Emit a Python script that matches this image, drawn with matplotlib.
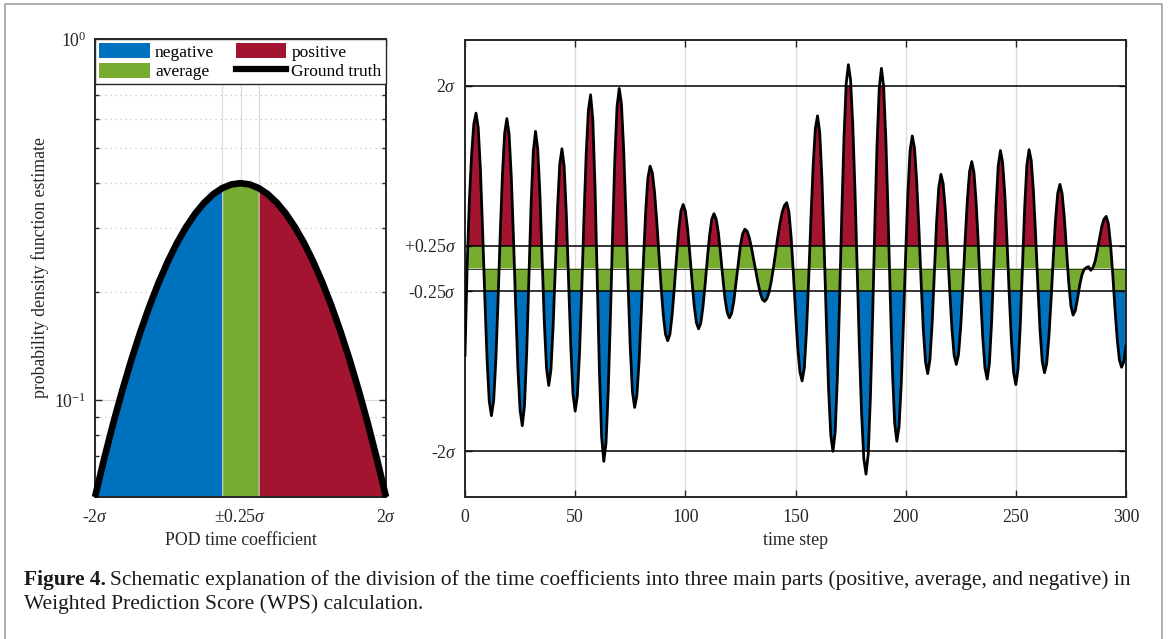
#!/usr/bin/env python3
"""Figure 4: split of POD time coefficients into negative / average / positive parts."""
import numpy as np
import matplotlib

matplotlib.use("Agg")
import matplotlib.pyplot as plt
from matplotlib.lines import Line2D
from matplotlib.patches import Patch
from matplotlib.path import Path
from matplotlib.ticker import FixedLocator, LogLocator, NullFormatter

# ---- data ------------------------------------------------------------------
# left panel: ground-truth pdf estimate (x in units of sigma)
pdf_x = [-2.0, -1.875, -1.75, -1.625, -1.5, -1.375, -1.25, -1.125, -1.0,
         -0.875, -0.75, -0.625, -0.5, -0.375, -0.25, -0.125, 0.0,
         0.125, 0.25, 0.375, 0.5, 0.625, 0.75, 0.875, 1.0,
         1.125, 1.25, 1.375, 1.5, 1.625, 1.75, 1.875, 2.0]
pdf_y = [0.0540, 0.0688, 0.0863, 0.1065, 0.1295, 0.1550, 0.1826, 0.2119, 0.2420,
         0.2721, 0.3011, 0.3282, 0.3521, 0.3719, 0.3867, 0.3958, 0.3989,
         0.3958, 0.3867, 0.3719, 0.3521, 0.3282, 0.3011, 0.2721, 0.2420,
         0.2119, 0.1826, 0.1550, 0.1295, 0.1065, 0.0863, 0.0688, 0.0540]

# right panel: time coefficient (units of sigma), one value per time step 0..300
coef = [
    -0.95, 0.05, 0.75, 1.25, 1.58, 1.70,
    1.54, 1.08, 0.41, -0.32, -0.99, -1.45, -1.61,
    -1.45, -1.00, -0.35, 0.38, 1.03, 1.48, 1.64,
    1.47, 1.01, 0.33, -0.41, -1.09, -1.55, -1.72,
    -1.50, -0.92, -0.11, 0.70, 1.28, 1.50,
    1.31, 0.81, 0.11, -0.59, -1.09, -1.28,
    -1.11, -0.63, 0.02, 0.66, 1.14, 1.31,
    1.12, 0.59, -0.13, -0.84, -1.37, -1.56,
    -1.39, -0.91, -0.22, 0.56, 1.25, 1.73, 1.90,
    1.63, 0.90, -0.11, -1.11, -1.84, -2.11,
    -1.91, -1.34, -0.53, 0.39, 1.20, 1.77, 1.97,
    1.80, 1.31, 0.61, -0.16, -0.86, -1.35, -1.52,
    -1.39, -1.02, -0.49, 0.09, 0.62, 0.99, 1.12,
    1.05, 0.84, 0.53, 0.17, -0.20, -0.51, -0.72, -0.79,
    -0.72, -0.51, -0.21, 0.12, 0.42, 0.63, 0.70,
    0.63, 0.44, 0.17, -0.13, -0.40, -0.59, -0.66,
    -0.60, -0.42, -0.17, 0.11, 0.36, 0.54, 0.60,
    0.54, 0.39, 0.16, -0.10, -0.33, -0.48, -0.54,
    -0.49, -0.36, -0.16, 0.05, 0.25, 0.38, 0.43,
    0.41, 0.34, 0.23, 0.10, -0.03, -0.16, -0.27, -0.34, -0.36,
    -0.33, -0.26, -0.14, 0.01, 0.18, 0.35, 0.50, 0.62, 0.69, 0.72,
    0.62, 0.35, -0.04, -0.47, -0.86, -1.13, -1.23,
    -1.09, -0.68, -0.10, 0.54, 1.12, 1.53, 1.67,
    1.49, 0.98, 0.24, -0.57, -1.31, -1.82, -2.00,
    -1.79, -1.20, -0.36, 0.59, 1.43, 2.02, 2.23,
    2.06, 1.57, 0.85, -0.01, -0.87, -1.59, -2.08, -2.25,
    -2.03, -1.41, -0.53, 0.47, 1.35, 1.97, 2.19,
    1.99, 1.42, 0.61, -0.31, -1.12, -1.69, -1.89,
    -1.73, -1.26, -0.59, 0.15, 0.82, 1.29, 1.45,
    1.32, 0.96, 0.44, -0.14, -0.66, -1.02, -1.15,
    -1.00, -0.61, -0.06, 0.49, 0.88, 1.03,
    0.93, 0.64, 0.22, -0.24, -0.66, -0.95, -1.05,
    -0.94, -0.63, -0.19, 0.31, 0.75, 1.06, 1.17,
    1.05, 0.72, 0.25, -0.29, -0.76, -1.09, -1.21,
    -1.04, -0.59, 0.04, 0.67, 1.12, 1.29,
    1.16, 0.81, 0.30, -0.28, -0.79, -1.14, -1.27,
    -1.10, -0.63, 0.02, 0.66, 1.13, 1.30,
    1.18, 0.84, 0.35, -0.19, -0.68, -1.02, -1.14,
    -1.04, -0.75, -0.34, 0.12, 0.53, 0.82, 0.92,
    0.82, 0.56, 0.21, -0.15, -0.41, -0.51,
    -0.46, -0.33, -0.18, -0.07, -0.01, 0.01, 0.02, -0.02, 0.01, 0.08, 0.20, 0.33, 0.46, 0.54, 0.57,
    0.49, 0.26, -0.07, -0.44, -0.77, -1.00, -1.08,
    -1.02, -0.85,
]

band = 0.25        # +-0.25 sigma average band
outer = 2.0        # +-2 sigma
left_xticks = [-2.0, -0.25, 0.0, 0.25, 2.0]
left_xticklabels = ["-2$\\sigma$", "", "\u00b10.25$\\sigma$", "", "2$\\sigma$"]
right_yticks = [-2.0, -0.25, 0.25, 2.0]
right_yticklabels = ["-2$\\sigma$", "-0.25$\\sigma$", "+0.25$\\sigma$", "2$\\sigma$"]
right_xticks = [0, 50, 100, 150, 200, 250, 300]

C_NEG = "#0072BD"
C_AVG = "#77AC30"
C_POS = "#A2142F"
C_AX = "#262626"
C_GRID = "#dcdcdc"

plt.rcParams["font.family"] = ["Liberation Serif", "DejaVu Serif"]
plt.rcParams["mathtext.fontset"] = "custom"
plt.rcParams["mathtext.rm"] = "Liberation Serif"
plt.rcParams["mathtext.it"] = "Liberation Serif:italic"
plt.rcParams["mathtext.bf"] = "Liberation Serif:bold"
FS = 12.8


def style_axes(ax):
    for s in ax.spines.values():
        s.set_color(C_AX)
        s.set_linewidth(1.4)
    ax.tick_params(which="both", direction="in", top=True, right=True,
                   colors=C_AX, labelsize=FS, width=1.0)
    ax.tick_params(which="major", length=5)
    ax.tick_params(which="minor", length=3)
    ax.tick_params(axis="x", which="major", pad=9)
    ax.tick_params(axis="y", which="major", pad=6)


fig = plt.figure(figsize=(11.7, 6.39), dpi=100)

# ---- left panel ------------------------------------------------------------
px = np.asarray(pdf_x)
py = np.asarray(pdf_y)
ax1 = fig.add_axes([95 / 1170, 1 - 497 / 639, 291 / 1170, 458 / 639])
ax1.set_yscale("log")
ax1.set_axisbelow(True)
ybot = py.min()
ax1.fill_between(px, 0.01, py, where=px <= -band, facecolor=C_NEG,
                 edgecolor="#d8d8d8", linewidth=0.6, zorder=1)
ax1.fill_between(px, 0.01, py, where=(px >= -band) & (px <= band), facecolor=C_AVG,
                 edgecolor="#d8d8d8", linewidth=0.6, zorder=1)
ax1.fill_between(px, 0.01, py, where=px >= band, facecolor=C_POS,
                 edgecolor="#d8d8d8", linewidth=0.6, zorder=1)
ax1.plot(px, py, color="black", linewidth=4.8, solid_capstyle="butt", zorder=3,
         clip_on=False)
ax1.set_xlim(-outer, outer)
ax1.set_ylim(ybot, 1.0)
ax1.xaxis.set_major_locator(FixedLocator(left_xticks))
ax1.set_xticklabels(left_xticklabels)
ax1.yaxis.set_major_locator(LogLocator(base=10, numticks=5))
ax1.yaxis.set_minor_locator(LogLocator(base=10, subs=np.arange(2, 10), numticks=10))
ax1.yaxis.set_minor_formatter(NullFormatter())
ax1.grid(which="major", color=C_GRID, linewidth=0.9, linestyle="-")
ax1.grid(which="minor", axis="y", color="#c8c8c8", linewidth=0.9, linestyle=(0, (1, 3)))
style_axes(ax1)
ax1.set_xlabel("POD time coefficient", fontsize=FS, color=C_AX, labelpad=4)
ax1.set_ylabel("probability density function estimate", fontsize=FS, color=C_AX, labelpad=4)

handles = [Patch(facecolor=C_NEG, edgecolor="none"),
           Patch(facecolor=C_AVG, edgecolor="none"),
           Patch(facecolor=C_POS, edgecolor="none"),
           Line2D([], [], color="black", linewidth=4.5)]
labels = ["negative", "average", "positive", "Ground truth"]
leg = ax1.legend(handles, labels, ncol=2, loc="upper left", bbox_to_anchor=(0, 0, 1, 1),
                 mode="expand", borderaxespad=0, fancybox=False, framealpha=1,
                 edgecolor=C_AX, fontsize=12.5, handlelength=2.9, handleheight=0.95,
                 handletextpad=0.3, columnspacing=0.4, borderpad=0.25, labelspacing=0.1)
leg.get_frame().set_linewidth(1.0)

# ---- right panel -----------------------------------------------------------
sig = np.asarray(coef)
tt = np.arange(len(sig))
ax2 = fig.add_axes([465 / 1170, 1 - 497 / 639, 661 / 1170, 457 / 639])
ax2.set_xlim(0, tt[-1])
ax2.set_ylim(-2.5, 2.5)
for xv in right_xticks[1:-1]:
    ax2.axvline(xv, color=C_GRID, linewidth=1.0, zorder=0)

# area between the curve and zero, used as clip path for the coloured bands
verts = np.vstack([[tt[0], 0.0], np.column_stack([tt, sig]), [tt[-1], 0.0], [tt[0], 0.0]])
region = Path(verts, closed=True)
spans = [(band, outer, C_POS), (-band, band, C_AVG), (-outer, -band, C_NEG)]
for lo, hi, col in spans:
    r = ax2.axhspan(lo, hi, facecolor=col, edgecolor="none", zorder=1)
    r.set_clip_path(region, ax2.transData)

for yv in right_yticks:
    ax2.axhline(yv, color="black", linewidth=1.1, zorder=2)
ax2.axhline(0.0, color="#333333", linewidth=0.7, zorder=2)
ax2.plot(tt, sig, color="black", linewidth=2.0, zorder=3)

ax2.set_xticks(right_xticks)
ax2.set_yticks(right_yticks)
ax2.set_yticklabels(right_yticklabels)
style_axes(ax2)
ax2.set_xlabel("time step", fontsize=FS, color=C_AX, labelpad=4)

# ---- caption and frame -----------------------------------------------------
renderer = fig.canvas.get_renderer()
cap_fs = 15.5
t1 = fig.text(24 / 1170, 1 - 580 / 639, "Figure 4.", fontsize=cap_fs, fontweight="bold",
              va="center", ha="left", color="#1a1a1a")
w = t1.get_window_extent(renderer=renderer).width
fig.text((24 + w + 4) / 1170, 1 - 580 / 639,
         "Schematic explanation of the division of the time coefficients into three main parts "
         "(positive, average, and negative) in",
         fontsize=cap_fs, va="center", ha="left", color="#1a1a1a")
fig.text(24 / 1170, 1 - 604 / 639, "Weighted Prediction Score (WPS) calculation.",
         fontsize=cap_fs, va="center", ha="left", color="#1a1a1a")

fig.add_artist(Line2D([5 / 1170, 5 / 1170, 1162 / 1170, 1162 / 1170],
                      [-0.01, 1 - 4 / 639, 1 - 4 / 639, -0.01],
                      transform=fig.transFigure, color="#a8a8a8", linewidth=1.3))

fig.savefig("out.png", dpi=100)
plt.close(fig)
